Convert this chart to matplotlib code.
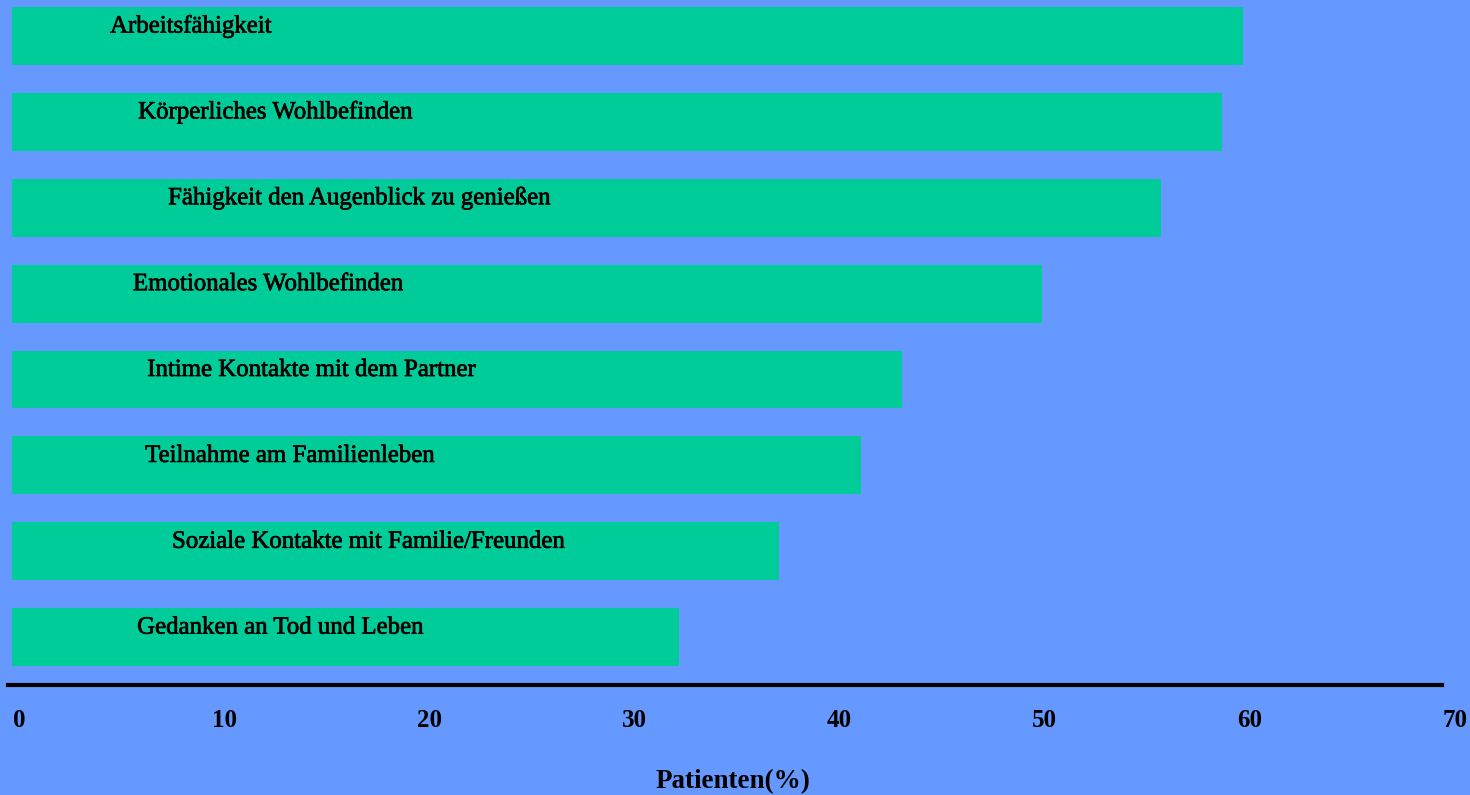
import numpy as np
import matplotlib.pyplot as plt
import matplotlib.patheffects as pe
from matplotlib.transforms import ScaledTranslation

# Daten: Anteil der Patienten (%) je Lebensbereich
kategorien = [
    'Arbeitsfähigkeit',
    'Körperliches Wohlbefinden',
    'Fähigkeit den Augenblick zu genießen',
    'Emotionales Wohlbefinden',
    'Intime Kontakte mit dem Partner',
    'Teilnahme am Familienleben',
    'Soziale Kontakte mit Familie/Freunden',
    'Gedanken an Tod und Leben',
]
patienten = [60, 59, 56, 50.2, 43.4, 41.4, 37.4, 32.5]
ticks = [0, 10, 20, 30, 40, 50, 60, 70]

# Textanfang der Beschriftungen (in x-Einheiten)
text_x = [4.78, 6.15, 7.61, 5.90, 6.59, 6.49, 7.80, 6.10]

hintergrund = '#6699ff'
balken = '#00cc99'

px = 20.51  # Pixel pro Prozentpunkt
fig = plt.figure(figsize=(14.7, 7.95), dpi=100, facecolor=hintergrund)
ax = fig.add_axes([(12 - 0.2 * px) / 1470, 110 / 795, 70.7 * px / 1470, 685 / 795])
ax.set_facecolor(hintergrund)

n = len(kategorien)
pos = np.arange(n)[::-1]
ax.barh(pos, patienten, height=58 / 86, color=balken, left=0)

# etwas kräftigere Schrift für die Beschriftungen in den Balken
kraeftig = [pe.withStroke(linewidth=0.5, foreground='black')]
for p, name, tx in zip(pos, kategorien, text_x):
    ax.text(tx, p + 0.04, name, family='Liberation Serif', fontsize=17.9,
            color='black', va='baseline', ha='left', path_effects=kraeftig)

ax.set_xlim(-0.2, 70.5)
ax.set_ylim(-0.558, n - 1 + 0.419)

for s in ['top', 'right', 'left']:
    ax.spines[s].set_visible(False)
ax.spines['bottom'].set_linewidth(3)
ax.spines['bottom'].set_color('black')
ax.spines['bottom'].set_bounds(-0.2, 69.7)

ax.set_yticks([])
ax.set_xticks(ticks)
ax.set_xticklabels([str(t) for t in ticks], family='Liberation Serif',
                   fontsize=18, fontweight='bold')
ax.tick_params(axis='x', length=0, pad=17)
verschiebung = ScaledTranslation(7 / 100, 0, fig.dpi_scale_trans)
for lbl in ax.get_xticklabels():
    lbl.set_transform(lbl.get_transform() + verschiebung)

ax.set_xlabel('Patienten(%)', family='Liberation Serif', fontsize=19.5,
              fontweight='bold', labelpad=27)

plt.savefig('out.png', dpi=100, facecolor=hintergrund)
